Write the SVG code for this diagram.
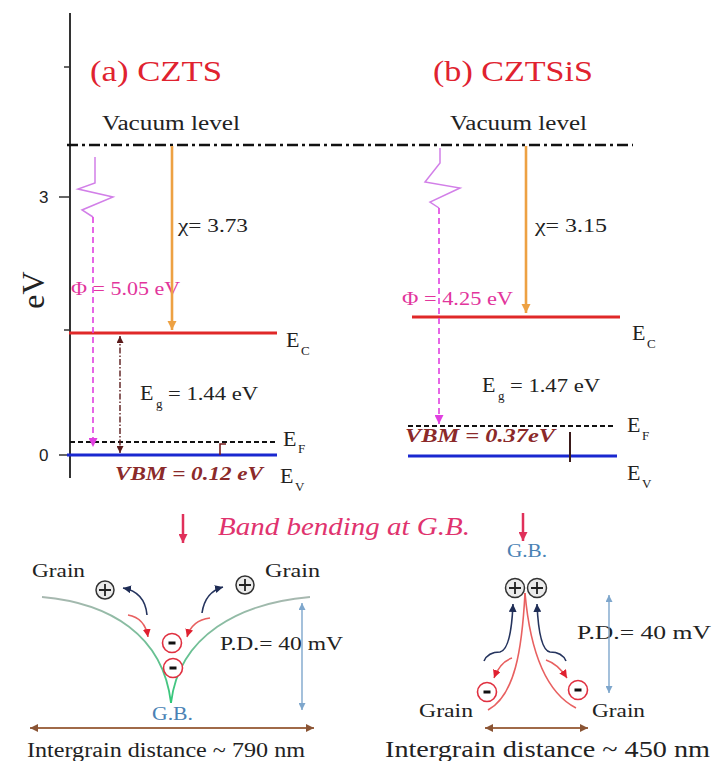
<svg xmlns="http://www.w3.org/2000/svg" width="712" height="761" viewBox="0 0 712 761" font-family="'Liberation Serif', 'Times New Roman', Times, serif">
<defs>
<style>
.title{font-size:29px;fill:#e0222f;}
.vac{font-size:20px;fill:#222;}
.lbl{font-size:19px;fill:#222;}
.big{font-size:22px;fill:#222;}
.sub{font-size:13px;fill:#222;}
.phi{font-size:18px;fill:#e2359c;}
.vbm{font-size:18px;fill:#8b2a2a;font-weight:bold;font-style:italic;}
.bb{font-size:25px;fill:#e0336e;font-style:italic;}
.gb{font-size:18px;fill:#4a82b4;}
.ec{stroke:#e02828;stroke-width:3;fill:none;}
.ev{stroke:#1a28d0;stroke-width:3;fill:none;}
.ef{stroke:#111;stroke-width:2;stroke-dasharray:5 3;fill:none;}
.orange{stroke:#eda143;stroke-width:2.6;fill:none;}
.mag{stroke:#e040e0;stroke-width:1.6;stroke-dasharray:6 4;fill:none;}
.zig{stroke:#d27fe8;stroke-width:1.5;fill:none;}
.pink{stroke:#e0305a;stroke-width:2.5;fill:none;}
.redc{stroke:#e86060;stroke-width:1.6;fill:none;}
.navy{stroke:#25345e;stroke-width:1.6;fill:none;}
.pd{stroke:#7ea6cc;stroke-width:1.4;fill:none;}
.brown{stroke:#a06a48;stroke-width:2;fill:none;}
.plus{fill:#ececec;stroke:#333;stroke-width:1.5;}
.minus{fill:#fff;stroke:#e03040;stroke-width:1.6;}
</style>
<linearGradient id="gg" x1="0" y1="0" x2="0" y2="1">
<stop offset="0" stop-color="#a8b8b0"/><stop offset="1" stop-color="#30c878"/>
</linearGradient>
<marker id="aO" viewBox="0 0 10 10" refX="10" refY="5" markerWidth="9" markerHeight="12" markerUnits="userSpaceOnUse" orient="auto"><path d="M0,0 L10,5 L0,10 z" fill="#eda143"/></marker>
<marker id="aM" viewBox="0 0 10 10" refX="10" refY="5" markerWidth="9" markerHeight="9" markerUnits="userSpaceOnUse" orient="auto"><path d="M0,0 L10,5 L0,10 z" fill="#e040e0"/></marker>
<marker id="aD" viewBox="0 0 10 10" refX="10" refY="5" markerWidth="7" markerHeight="7" markerUnits="userSpaceOnUse" orient="auto-start-reverse"><path d="M0,0 L10,5 L0,10 z" fill="#5a1a1a"/></marker>
<marker id="aP" viewBox="0 0 10 10" refX="10" refY="5" markerWidth="10" markerHeight="9" markerUnits="userSpaceOnUse" orient="auto"><path d="M0,0 L10,5 L0,10 z" fill="#e0305a"/></marker>
<marker id="aR" viewBox="0 0 10 10" refX="10" refY="5" markerWidth="8" markerHeight="8" markerUnits="userSpaceOnUse" orient="auto"><path d="M0,0 L10,5 L0,10 z" fill="#e02030"/></marker>
<marker id="aN" viewBox="0 0 10 10" refX="10" refY="5" markerWidth="8" markerHeight="8" markerUnits="userSpaceOnUse" orient="auto"><path d="M0,0 L10,5 L0,10 z" fill="#1e2c55"/></marker>
<marker id="aB" viewBox="0 0 10 10" refX="10" refY="5" markerWidth="7" markerHeight="7" markerUnits="userSpaceOnUse" orient="auto-start-reverse"><path d="M0,0 L10,5 L0,10 z" fill="#7ea6cc"/></marker>
<marker id="aW" viewBox="0 0 10 10" refX="10" refY="5" markerWidth="9" markerHeight="8" markerUnits="userSpaceOnUse" orient="auto-start-reverse"><path d="M0,0 L10,5 L0,10 z" fill="#8a5434"/></marker>
</defs>
<rect width="712" height="761" fill="#fff"/>

<g id="axis">
<line x1="70" y1="13" x2="70" y2="478" stroke="#333" stroke-width="2"/>
<line x1="64" y1="67" x2="70" y2="67" stroke="#333" stroke-width="1.5"/>
<line x1="59" y1="197" x2="70" y2="197" stroke="#333" stroke-width="1.5"/>
<line x1="64" y1="330" x2="70" y2="330" stroke="#333" stroke-width="1.5"/>
<line x1="59" y1="455" x2="70" y2="455" stroke="#333" stroke-width="1.5"/>
<text font-family="'Liberation Sans', Arial, Helvetica, sans-serif" x="39" y="203" font-size="17" fill="#222">3</text>
<text font-family="'Liberation Sans', Arial, Helvetica, sans-serif" x="39" y="461" font-size="17" fill="#222">0</text>
<text x="44" y="290" font-size="32" fill="#222" text-anchor="middle" transform="rotate(-90 44 290)">eV</text>
</g>

<g id="vacuum">
<line x1="67" y1="145" x2="633" y2="145" stroke="#111" stroke-width="2.6" stroke-dasharray="11 4 3 4"/>
<text class="vac" x="102" y="130" textLength="138" lengthAdjust="spacingAndGlyphs">Vacuum level</text>
<text class="vac" x="450" y="130" textLength="137" lengthAdjust="spacingAndGlyphs">Vacuum level</text>
</g>

<g id="panel-a">
<text class="title" x="90" y="81" textLength="132" lengthAdjust="spacingAndGlyphs">(a) CZTS</text>
<line class="ec" x1="69" y1="333" x2="277" y2="333"/>
<line class="ef" x1="70" y1="442" x2="277" y2="442"/>
<line class="ev" x1="67" y1="455" x2="277" y2="455"/>
<text class="big" x="286" y="347">E</text><text class="sub" x="301" y="355">C</text>
<text class="big" x="283" y="446">E</text><text class="sub" x="298" y="453">F</text>
<text class="big" x="280" y="483">E</text><text class="sub" x="295" y="491">V</text>
<text class="lbl" x="178" y="232" textLength="70" lengthAdjust="spacingAndGlyphs">χ= 3.73</text>
<text class="phi" x="71" y="295" textLength="109" lengthAdjust="spacingAndGlyphs">Φ = 5.05 eV</text>
<text class="big" x="140" y="400" font-size="24">E</text><text class="sub" x="156" y="408" font-size="14">g</text>
<text class="lbl" x="168" y="400" textLength="90" lengthAdjust="spacingAndGlyphs">= 1.44 eV</text>
<text class="vbm" x="115" y="480" textLength="148" lengthAdjust="spacingAndGlyphs">VBM = 0.12 eV</text>
<path d="M220,455 L220,444 L226,444" stroke="#7a2020" stroke-width="1.6" fill="none"/>
</g>

<g id="panel-b">
<text class="title" x="433" y="81" textLength="160" lengthAdjust="spacingAndGlyphs">(b) CZTSiS</text>
<line class="ec" x1="412" y1="317" x2="620" y2="317"/>
<line class="ef" x1="408" y1="426" x2="615" y2="426"/>
<line class="ev" x1="408" y1="456" x2="617" y2="456"/>
<text class="big" x="632" y="340">E</text><text class="sub" x="647" y="348">C</text>
<text class="big" x="627" y="432">E</text><text class="sub" x="642" y="440">F</text>
<text class="big" x="627" y="480">E</text><text class="sub" x="642" y="488">V</text>
<text class="lbl" x="535" y="232" textLength="72" lengthAdjust="spacingAndGlyphs">χ= 3.15</text>
<text class="phi" x="402" y="305" textLength="111" lengthAdjust="spacingAndGlyphs">Φ = 4.25 eV</text>
<text class="big" x="482" y="392" font-size="24">E</text><text class="sub" x="498" y="400" font-size="14">g</text>
<text class="lbl" x="510" y="392" textLength="90" lengthAdjust="spacingAndGlyphs">= 1.47 eV</text>
<text class="vbm" x="405" y="442" font-size="17" textLength="150" lengthAdjust="spacingAndGlyphs">VBM = 0.37eV</text>
<line x1="570" y1="432" x2="570" y2="462" stroke="#3a1a1a" stroke-width="2"/>
</g>

<g id="band-bending">
<text class="bb" x="218" y="535" textLength="252" lengthAdjust="spacingAndGlyphs">Band bending at G.B.</text>
</g>

<g id="gb-a">
<text class="lbl" x="32" y="577" textLength="53" lengthAdjust="spacingAndGlyphs">Grain</text>
<text class="lbl" x="265" y="577" textLength="55" lengthAdjust="spacingAndGlyphs">Grain</text>
<path d="M42,597 C110,603 163,635 171,703" stroke="url(#gg)" stroke-width="1.8" fill="none"/>
<path d="M310,597 C240,603 179,635 171,703" stroke="url(#gg)" stroke-width="1.8" fill="none"/>
<circle class="plus" cx="105" cy="590" r="9"/><path d="M99,590 H111 M105,584 V596" stroke="#222" stroke-width="1.8"/>
<circle class="plus" cx="245" cy="585" r="9"/><path d="M239,585 H251 M245,579 V591" stroke="#222" stroke-width="1.8"/>
<circle class="minus" cx="172" cy="643" r="9.5"/><rect x="168.5" y="641.5" width="7" height="3" fill="#111"/>
<circle class="minus" cx="173" cy="668" r="9.5"/><rect x="169.5" y="666.5" width="7" height="3" fill="#111"/>
<text class="lbl" x="220" y="650" textLength="123" lengthAdjust="spacingAndGlyphs">P.D.= 40 mV</text>
<text class="gb" x="152" y="720" textLength="41" lengthAdjust="spacingAndGlyphs">G.B.</text>
<text x="27" y="757" font-size="20" fill="#222" textLength="278" lengthAdjust="spacingAndGlyphs">Intergrain distance ~ 790 nm</text>
</g>

<g id="gb-b">
<text class="gb" x="507" y="557" textLength="40" lengthAdjust="spacingAndGlyphs">G.B.</text>
<path class="redc" d="M525,593 C522,650 515,695 488,710"/>
<path class="redc" d="M525,593 C530,650 545,692 576,708"/>
<circle class="plus" cx="515" cy="588" r="9.5"/><path d="M509,588 H521 M515,582 V594" stroke="#222" stroke-width="1.8"/>
<circle class="plus" cx="537" cy="588" r="9.5"/><path d="M531,588 H543 M537,582 V594" stroke="#222" stroke-width="1.8"/>
<circle class="minus" cx="487" cy="692" r="9.5"/><rect x="483.5" y="690.5" width="7" height="3" fill="#111"/>
<circle class="minus" cx="578" cy="690" r="9.5"/><rect x="574.5" y="688.5" width="7" height="3" fill="#111"/>
<text class="lbl" x="577" y="639" textLength="134" lengthAdjust="spacingAndGlyphs">P.D.= 40 mV</text>
<text class="lbl" x="419" y="717" textLength="54" lengthAdjust="spacingAndGlyphs">Grain</text>
<text class="lbl" x="592" y="717" textLength="53" lengthAdjust="spacingAndGlyphs">Grain</text>
<text x="385" y="757" font-size="23" fill="#222" textLength="325" lengthAdjust="spacingAndGlyphs">Intergrain distance ~ 450 nm</text>
</g>

<g id="connectors">
<line class="orange" x1="172" y1="146" x2="172" y2="330" marker-end="url(#aO)"/>
<line class="orange" x1="526" y1="146" x2="526" y2="313" marker-end="url(#aO)"/>
<polyline class="zig" points="95,157 95,183 78,189 113,197 82,210 93,217"/>
<polyline class="zig" points="440,148 440,163 425,182 460,188 430,202 439,208"/>
<line class="mag" x1="93" y1="217" x2="93" y2="447" marker-end="url(#aM)"/>
<line class="mag" x1="439" y1="208" x2="439" y2="424" marker-end="url(#aM)"/>
<line x1="120" y1="336" x2="120" y2="453" stroke="#5a1a1a" stroke-width="1.4" stroke-dasharray="6 2 1.5 2" marker-start="url(#aD)" marker-end="url(#aD)"/>
<line class="pink" x1="183" y1="514" x2="183" y2="543" marker-end="url(#aP)"/>
<line class="pink" x1="523" y1="513" x2="523" y2="541" marker-end="url(#aP)"/>
<path class="redc" d="M128,615 Q145,618 148,637" marker-end="url(#aR)"/>
<path class="redc" d="M210,618 Q192,620 187,637" marker-end="url(#aR)"/>
<path class="navy" d="M147,615 Q145,592 123,588" marker-end="url(#aN)"/>
<path class="navy" d="M202,613 Q205,592 223,587" marker-end="url(#aN)"/>
<line class="pd" x1="302" y1="603" x2="302" y2="710" marker-start="url(#aB)" marker-end="url(#aB)"/>
<line class="brown" x1="30" y1="728" x2="314" y2="728" marker-start="url(#aW)" marker-end="url(#aW)"/>
<path class="navy" d="M484,661 Q488,652 500,652 Q511,650 513,604" marker-end="url(#aN)"/>
<path class="navy" d="M566,661 Q562,652 550,652 Q539,650 537,604" marker-end="url(#aN)"/>
<path class="redc" d="M512,658 Q500,662 494,678" marker-end="url(#aR)"/>
<path class="redc" d="M546,660 Q558,664 567,678" marker-end="url(#aR)"/>
<line class="pd" x1="609" y1="595" x2="609" y2="693" marker-start="url(#aB)" marker-end="url(#aB)"/>
<line class="brown" x1="485" y1="728" x2="588" y2="728" marker-start="url(#aW)" marker-end="url(#aW)"/>
</g>
</svg>
